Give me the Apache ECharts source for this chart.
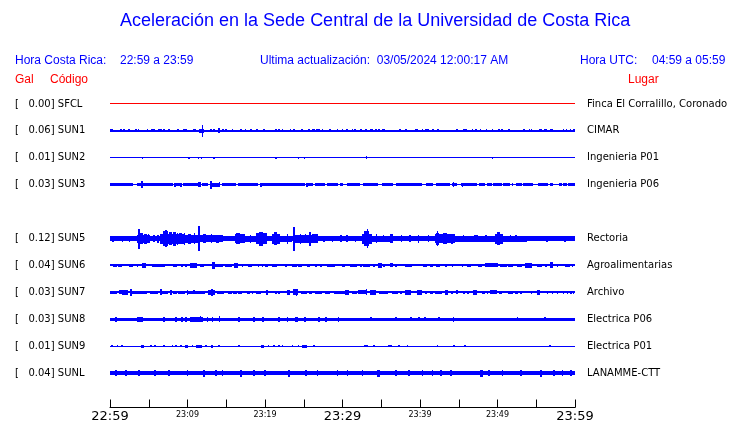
<!DOCTYPE html>
<html><head><meta charset="utf-8">
<script src="https://cdn.jsdelivr.net/npm/echarts@6/dist/echarts.min.js"></script>
<style>html,body{margin:0;padding:0;background:#fff}#c{width:740px;height:423px}</style>
</head><body><div id="c"></div>
<script>
// ---- data ----
const stations = ['SFCL','SUN1','SUN2','SUN3','SUN4','SUN5','SUN6','SUN7','SUN8','SUN9','SUNL'];
const peakGal  = [0.00, 0.06, 0.01, 0.03, null, 0.12, 0.04, 0.03, 0.03, 0.01, 0.04];
const places   = ['Finca El Corralillo, Coronado','CIMAR','Ingenieria P01','Ingenieria P06','','Rectoria','Agroalimentarias','Archivo','Electrica P06','Electrica P01','LANAMME-CTT'];
const timeTicks = ['22:59','23:09','23:19','23:29','23:39','23:49','23:59'];
// baseline half-amplitude (Gal) of each trace
const baseGal  = [0.005, 0.01, 0.005, 0.005, null, 0.023, 0.01, 0.01, 0.017, 0.005, 0.022];
// envelope events: [minute, halfAmpGal] (short burst) or [fromMinute, toMinute, halfAmpGal]
const sfclEvents = [];
const sun1Events = [[0,0.43,0.015],[1.29,1.5,0.013],[1.72,0.013],[2.37,0.013],[3.23,0.013],[3.57,0.015],[4.73,0.013],[5.29,5.81,0.015],[6.24,0.013],[6.45,0.013],[6.88,0.013],[7.53,0.013],[8.6,8.9,0.015],[9.46,9.89,0.015],[10.75,11.05,0.015],[11.53,12.13,0.02],[11.83,0.06],[12.9,0.013],[13.33,0.013],[13.9,14.2,0.025],[14.5,0.013],[14.9,0.013],[15.7,0.013],[16.8,0.013],[17.4,0.013],[18.07,0.013],[18.8,19.05,0.015],[19.8,0.013],[21.3,0.013],[21.7,0.013],[22.15,0.013],[23.2,0.013],[23.66,23.87,0.015],[24.7,0.013],[25.6,0.013],[26.0,0.013],[26.2,0.013],[26.6,0.013],[26.9,0.013],[27.3,0.013],[28.2,28.5,0.015],[29.25,0.013],[29.9,0.013],[30.5,0.013],[31.2,0.013],[31.5,0.013],[32.3,0.013],[32.9,33.2,0.015],[33.55,33.9,0.015],[34.2,0.013],[34.6,0.013],[35.1,0.013],[35.3,0.013],[37.3,0.013],[38.07,0.013],[39.4,0.013],[39.6,0.013],[40.2,0.013],[40.65,0.013],[40.9,0.013],[41.6,0.013],[42.15,42.45,0.015],[44.65,0.013],[45.6,0.013],[45.8,0.013],[46.7,0.013],[47.1,47.3,0.015],[47.7,0.013],[48.5,0.013],[49.25,0.013],[50.1,0.013],[50.45,0.013],[51.4,0.013],[53.3,0.013],[54.0,0.013],[54.3,0.013],[55.3,55.7,0.015],[56.0,56.35,0.015],[56.8,0.013],[57.0,0.013],[58.4,0.013],[58.8,0.013],[59.3,0.013],[59.8,0.013]];
const sun2Events = [[4.1,0.01],[10.1,0.01],[11.3,0.01],[11.7,0.012],[13.3,0.01],[21.3,0.01],[24.2,0.01],[25.0,25.2,0.01],[33.0,0.013],[49.25,0.01]];
const sun3Events = [[0,3.0,0.017],[4.0,0.037],[3.44,8.17,0.017],[8.3,0.022],[8.4,9.25,0.017],[9.03,0.022],[9.46,11.4,0.017],[11.4,11.74,0.025],[11.83,12.7,0.017],[12.9,0.04],[13.1,14.2,0.02],[14.0,0.025],[14.4,16.26,0.017],[16.47,19.1,0.017],[19.4,0.022],[19.57,25.16,0.017],[25.3,0.02],[25.4,26.2,0.017],[26.45,27.75,0.017],[27.96,29.46,0.017],[29.68,30.11,0.017],[30.54,32.26,0.017],[32.6,34.63,0.017],[35.06,36.56,0.017],[36.9,40.2,0.017],[40.78,41.72,0.017],[42.07,43.87,0.017],[44.1,44.73,0.017],[44.22,0.025],[45.25,47.3,0.017],[45.38,0.02],[47.66,48.39,0.017],[48.6,49.25,0.017],[49.46,50.54,0.017],[50.75,51.6,0.017],[51.83,52.05,0.017],[52.35,53.12,0.017],[53.25,54.63,0.017],[55.27,56.56,0.017],[56.77,57.2,0.017],[57.98,58.28,0.017],[58.5,58.93,0.017],[59.14,60,0.017]];
const sun4Events = [];
const sun5Events = [[0.3,0.5,0.03],[1.5,1.7,0.03],[2.4,2.6,0.03],[3.44,5.16,0.04],[3.8,4.3,0.055],[4.4,4.8,0.05],[3.66,0.10],[4.9,5.0,0.045],[5.6,0.035],[6.1,0.04],[6.45,9.68,0.05],[6.9,7.5,0.075],[7.1,0.085],[7.6,8.0,0.065],[8.1,8.5,0.07],[8.6,0.06],[8.9,9.3,0.055],[9.5,0.06],[9.68,11.6,0.04],[10.1,10.5,0.05],[10.8,0.055],[11.4,0.125],[11.6,14.6,0.035],[12.0,12.4,0.045],[13.0,0.045],[13.7,14.1,0.04],[16.1,17.4,0.045],[16.3,16.8,0.055],[17.4,18.9,0.03],[18.0,0.04],[18.9,20.2,0.055],[19.2,19.8,0.07],[20.86,21.9,0.05],[21.1,21.5,0.065],[21.9,23.44,0.032],[22.8,0.05],[23.65,0.12],[23.87,26.02,0.038],[24.5,0.05],[25.1,0.045],[25.7,0.07],[26.02,26.9,0.045],[27.5,0.03],[28.6,0.03],[29.7,29.9,0.035],[30.5,0.035],[31.6,0.03],[32.5,33.77,0.05],[32.8,33.4,0.075],[33.1,0.095],[33.77,36.13,0.03],[34.3,0.047],[35.2,0.035],[36.13,36.56,0.045],[37.5,0.035],[38.6,0.035],[39.7,0.04],[41.0,0.035],[41.94,44.5,0.045],[42.0,42.4,0.06],[42.15,0.075],[43.0,43.5,0.055],[44.0,0.05],[44.5,49.68,0.03],[45.5,0.035],[47.0,47.5,0.035],[48.4,0.035],[49.68,50.75,0.05],[49.9,50.3,0.065],[50.75,53.8,0.028],[51.6,0.035],[52.3,0.035],[53.0,0.032],[56.3,0.03],[58.6,0.03]];
const sun6Events = [[0.43,0.86,0.017],[1.08,1.5,0.017],[2.45,3.0,0.017],[3.44,3.66,0.017],[4.09,4.6,0.025],[5.38,7.1,0.017],[8.17,8.6,0.017],[9.16,0.017],[9.68,0.017],[10.32,11.18,0.023],[11.6,12.17,0.017],[13.2,13.55,0.035],[13.55,14.6,0.017],[14.9,15.7,0.017],[16.04,16.56,0.023],[17.0,0.017],[17.85,18.3,0.017],[19.05,0.017],[19.57,0.017],[20.0,20.43,0.017],[20.86,21.5,0.017],[22.58,0.017],[23.5,24.1,0.017],[24.3,24.73,0.017],[25.4,25.8,0.017],[26.45,0.017],[27.1,0.017],[27.96,29.03,0.017],[30.0,0.017],[29.9,30.3,0.017],[30.97,31.83,0.017],[32.26,0.017],[32.7,0.017],[32.9,33.55,0.017],[33.98,34.2,0.017],[34.63,35.06,0.023],[35.27,0.017],[36.13,36.56,0.02],[36.78,37.0,0.017],[38.07,38.93,0.017],[40.43,40.95,0.017],[41.3,41.72,0.017],[42.07,42.6,0.017],[43.23,0.017],[44.1,0.017],[45.38,0.017],[46.02,46.54,0.017],[47.53,47.96,0.017],[48.39,50.11,0.02],[50.32,51.19,0.017],[51.4,52.05,0.017],[52.48,53.12,0.017],[53.55,54.41,0.025],[55.06,55.7,0.017],[56.13,0.017],[56.77,57.2,0.03],[57.64,0.017],[58.71,59.36,0.017],[59.57,59.79,0.017]];
const sun7Events = [[0,0.86,0.017],[1.16,1.5,0.02],[1.5,2.37,0.025],[2.58,0.035],[2.8,4.73,0.017],[5.16,6.24,0.017],[6.45,0.03],[6.67,7.53,0.017],[7.74,0.025],[8.17,8.6,0.017],[8.82,9.68,0.017],[9.9,0.025],[10.1,12.26,0.017],[10.75,0.02],[12.7,13.55,0.025],[13.03,0.035],[13.76,14.75,0.017],[15.18,15.7,0.017],[15.9,16.34,0.017],[16.47,17.0,0.017],[17.63,18.07,0.017],[18.28,18.5,0.017],[18.9,19.48,0.017],[20.09,20.43,0.023],[21.29,0.017],[21.72,0.017],[22.8,23.2,0.023],[23.66,24.3,0.03],[23.95,0.035],[24.6,25.4,0.017],[25.7,26.1,0.017],[26.45,27.3,0.017],[27.74,28.4,0.017],[28.95,29.68,0.017],[30.0,30.33,0.017],[29.68,30.33,0.017],[30.33,30.88,0.023],[31.2,31.83,0.017],[32.05,33.12,0.02],[33.0,0.03],[33.55,34.33,0.023],[34.75,35.92,0.017],[36.35,37.2,0.017],[37.4,37.64,0.017],[38.07,38.8,0.023],[39.66,40.2,0.025],[40.65,40.95,0.017],[41.3,41.64,0.017],[41.94,42.8,0.017],[43.23,43.66,0.025],[43.96,44.3,0.017],[44.65,44.95,0.02],[45.6,45.81,0.017],[46.02,46.33,0.017],[46.9,47.3,0.023],[47.96,48.39,0.017],[48.6,48.82,0.017],[49.03,49.9,0.02],[50.24,50.54,0.017],[51.4,52.05,0.017],[52.26,52.69,0.017],[52.9,53.2,0.017],[54.28,54.41,0.017],[55.06,55.5,0.023],[56.35,56.56,0.017],[56.99,0.013],[57.64,0.013],[58.41,0.013],[58.93,0.013],[59.36,0.013],[59.7,0.013]];
const sun8Events = [[0.65,0.025],[3.44,4.3,0.025],[6.88,0.025],[8.39,8.6,0.025],[9.16,0.025],[9.68,0.025],[10.32,12.04,0.023],[11.6,0.03],[12.47,0.025],[13.1,0.025],[14.0,0.03],[16.56,0.025],[18.5,0.025],[19.57,19.9,0.025],[21.72,0.025],[22.8,0.025],[23.87,24.3,0.025],[25.08,0.025],[26.88,0.025],[27.74,0.025],[29.38,0.025],[33.55,0.022],[36.78,0.022],[38.71,0.022],[39.79,0.022],[40.52,0.022],[42.37,0.022],[44.22,0.025],[52.48,0.022],[56.0,0.022]];
const sun9Events = [[0.13,0.012],[0.86,0.012],[1.42,0.012],[4.0,4.43,0.013],[5.16,0.012],[5.72,0.012],[6.88,0.012],[7.96,0.012],[8.39,0.012],[9.03,9.33,0.012],[9.68,10.1,0.013],[10.54,0.012],[11.05,11.9,0.014],[12.26,0.012],[13.03,13.33,0.013],[13.98,0.012],[16.56,16.8,0.012],[19.48,19.83,0.013],[20.34,0.012],[21.08,0.012],[21.72,21.93,0.012],[22.15,0.012],[23.44,0.012],[24.2,0.012],[24.8,25.4,0.013],[26.24,0.012],[32.78,0.012],[33.03,0.012],[33.98,0.012],[35.92,0.012],[36.13,0.012],[37.21,0.012],[38.28,0.012],[42.15,0.01],[44.3,0.01],[45.68,0.01],[56.69,0.012]];
const sunlEvents = [[0.65,0.032],[1.94,0.032],[3.66,0.032],[5.72,0.032],[7.53,0.032],[9.9,0.032],[12.04,0.035],[13.55,0.032],[14.41,0.032],[16.78,0.035],[18.5,0.032],[19.91,0.032],[23.01,0.035],[25.16,0.032],[26.67,0.032],[29.25,0.032],[30.54,0.03],[32.48,0.032],[34.41,34.84,0.035],[36.78,0.032],[38.5,0.032],[40.22,0.032],[41.51,0.032],[42.58,0.032],[43.87,0.032],[47.74,48.17,0.035],[48.82,0.032],[50.54,0.032],[52.9,0.032],[55.49,55.7,0.035],[57.2,0.032],[58.28,0.032],[59.36,0.032]];
const stationEvents = [sfclEvents, sun1Events, sun2Events, sun3Events, sun4Events, sun5Events, sun6Events, sun7Events, sun8Events, sun9Events, sunlEvents];

// ---- styling constants ----
const PX_PER_GAL = 100;
const SPIKE_W = 0.2;
const BLUE = '#0000ff', RED = '#ff0000';

const chart = echarts.init(document.getElementById('c'), null, {renderer: 'canvas'});

function items(row) {
  const out = [];
  if (baseGal[row] == null) return out;
  out.push([0, 60, baseGal[row], row]);
  stationEvents[row].forEach(e => {
    if (e.length === 2) out.push([e[0], Math.min(60, e[0] + SPIKE_W), e[1], row]);
    else out.push([e[0], Math.min(60, e[1]), e[2], row]);
  });
  return out;
}

function renderItem(params, api) {
  const t0 = api.value(0), t1 = api.value(1), amp = api.value(2), row = api.value(3);
  const p0 = api.coord([t0, row]);
  const p1 = api.coord([t1, row]);
  const h = Math.max(1, Math.round(amp * PX_PER_GAL * 2));
  const x0 = Math.round(p0[0]);
  const x1 = Math.max(x0 + 1, Math.round(p1[0]));
  const y0 = Math.round(p0[1] - h / 2);
  return {type: 'rect', shape: {x: x0, y: y0, width: x1 - x0, height: h},
          style: {fill: api.visual('color')}};
}

const series = stations.map((s, i) => ({
  type: 'custom', name: s, renderItem: renderItem, data: items(i),
  itemStyle: {color: i === 0 ? RED : BLUE}, clip: false, silent: true,
  encode: {x: [0, 1], y: 3}
}));

const txt = (x, y, text, size, color, extra) => ({
  type: 'text', x: x, y: y, silent: true,
  style: Object.assign({text: text, fontFamily: '"Liberation Sans", Arial, sans-serif', fontSize: size,
    fill: color, textVerticalAlign: 'middle', verticalAlign: 'middle'}, extra || {})
});

chart.setOption({
  animation: false,
  backgroundColor: '#fff',
  grid: {left: 110, right: 165, top: 90.5, height: 297, containLabel: false},
  xAxis: {
    type: 'value', min: 0, max: 60, interval: 10, offset: 21,
    axisLine: {show: true, onZero: false, lineStyle: {color: '#000', width: 1}},
    axisTick: {show: true, inside: true, length: 8, lineStyle: {color: '#000', width: 1}},
    minorTick: {show: true, splitNumber: 2, length: 8, lineStyle: {color: '#000', width: 1}},
    splitLine: {show: false}, minorSplitLine: {show: false},
    axisLabel: {
      margin: 2, showMinLabel: true, showMaxLabel: true,
      formatter: v => {
        const i = Math.round(v / 10);
        return (i % 3 === 0) ? '{big|' + timeTicks[i] + '}' : '{small|' + timeTicks[i] + '}';
      },
      rich: {
        big: {fontFamily: '"DejaVu Sans", sans-serif', fontSize: 13, color: '#000', lineHeight: 14},
        small: {fontFamily: '"DejaVu Sans", sans-serif', fontSize: 8, color: '#000', lineHeight: 10}
      }
    }
  },
  yAxis: [{
    type: 'category', data: stations, inverse: true, position: 'left',
    axisLine: {show: false}, axisTick: {show: false}, splitLine: {show: false},
    axisLabel: {
      align: 'left', margin: 95, interval: 0,
      fontFamily: '"DejaVu Sans", sans-serif', fontSize: 10, color: '#000',
      formatter: (v, i) => peakGal[i] == null ? '' : '[   ' + peakGal[i].toFixed(2) + '] ' + v
    }
  }, {
    type: 'category', data: places, inverse: true, position: 'right',
    axisLine: {show: false}, axisTick: {show: false}, splitLine: {show: false},
    axisLabel: {
      align: 'left', margin: 12, interval: 0,
      fontFamily: '"DejaVu Sans", sans-serif', fontSize: 10, color: '#000'
    }
  }],
  series: series,
  graphic: [
    txt(120, 21.5, 'Aceleración en la Sede Central de la Universidad de Costa Rica', 18, BLUE),
    txt(15, 60.5, 'Hora Costa Rica:', 12, BLUE),
    txt(120, 60.5, '22:59 a 23:59', 12, BLUE),
    txt(260, 60.5, 'Ultima actualización:  03/05/2024 12:00:17 AM', 12, BLUE),
    txt(580, 60.5, 'Hora UTC:', 12, BLUE),
    txt(652, 60.5, '04:59 a 05:59', 12, BLUE),
    txt(15, 79.5, 'Gal', 12, RED),
    txt(50, 79.5, 'Código', 12, RED),
    txt(628, 79.5, 'Lugar', 12, RED)
  ]
});
</script>
</body></html>
